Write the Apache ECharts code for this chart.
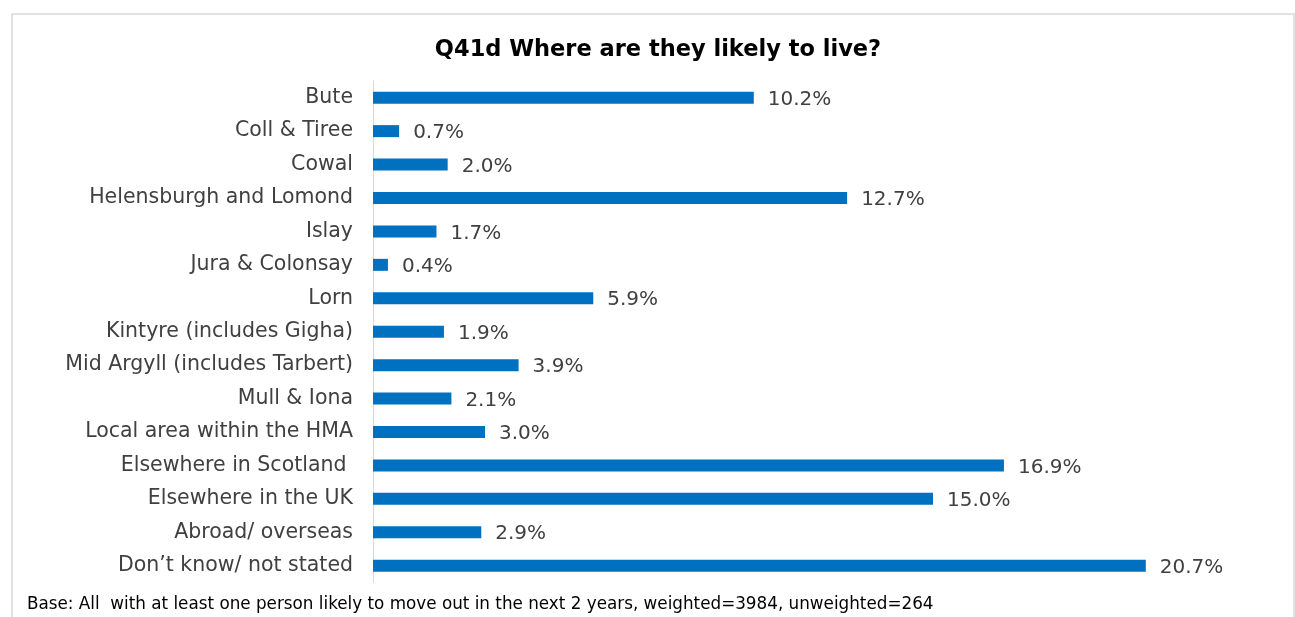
<!DOCTYPE html>
<html><head><meta charset="utf-8">
<script src="https://cdn.jsdelivr.net/npm/echarts@6/dist/echarts.min.js"></script>
<style>html,body{margin:0;padding:0;background:#fff}#c{width:1295px;height:617px}</style>
</head><body><div id="c"></div>
<script>
const categories = ["Bute","Coll & Tiree","Cowal","Helensburgh and Lomond","Islay","Jura & Colonsay","Lorn","Kintyre (includes Gigha)","Mid Argyll (includes Tarbert)","Mull & Iona","Local area within the HMA","Elsewhere in Scotland ","Elsewhere in the UK","Abroad/ overseas","Don\u2019t know/ not stated"];
const values = [10.2,0.7,2.0,12.7,1.7,0.4,5.9,1.9,3.9,2.1,3.0,16.9,15.0,2.9,20.7];
const titleText = "Q41d Where are they likely to live?";
const footText = "Base: All  with at least one person likely to move out in the next 2 years, weighted=3984, unweighted=264";
const FONT = "DejaVu Sans";
const chart = echarts.init(document.getElementById('c'));
chart.setOption({
  animation:false,
  title:{text:titleText,left:653,top:34,textAlign:'center',textStyle:{fontFamily:FONT,fontSize:22.5,fontWeight:'bold',color:'#000'}},
  graphic:[
    {type:'rect',shape:{x:12,y:14,width:1282,height:640},style:{fill:'none',stroke:'#d9d9d9',lineWidth:1.5}},
    {type:'text',left:27,top:596,style:{text:footText,font:'16.8px "'+FONT+'"',fill:'#000'}}
  ],
  grid:{left:373,top:81,width:896,height:501.4,containLabel:false},
  xAxis:{type:'value',min:0,max:24,show:false},
  yAxis:{type:'category',data:categories,inverse:true,
    axisLine:{show:true,lineStyle:{color:'#d9d9d9',width:1}},axisTick:{show:false},
    axisLabel:{fontFamily:FONT,fontSize:20.5,color:'#404040',margin:20,padding:[3,0,0,0]}},
  series:[{type:'bar',data:values,barWidth:12,itemStyle:{color:'#0070c0'},
    label:{show:true,position:'right',distance:14,offset:[0,2],fontFamily:FONT,fontSize:20,color:'#404040',formatter:p=>p.value.toFixed(1)+'%'}}]
});
</script></body></html>
